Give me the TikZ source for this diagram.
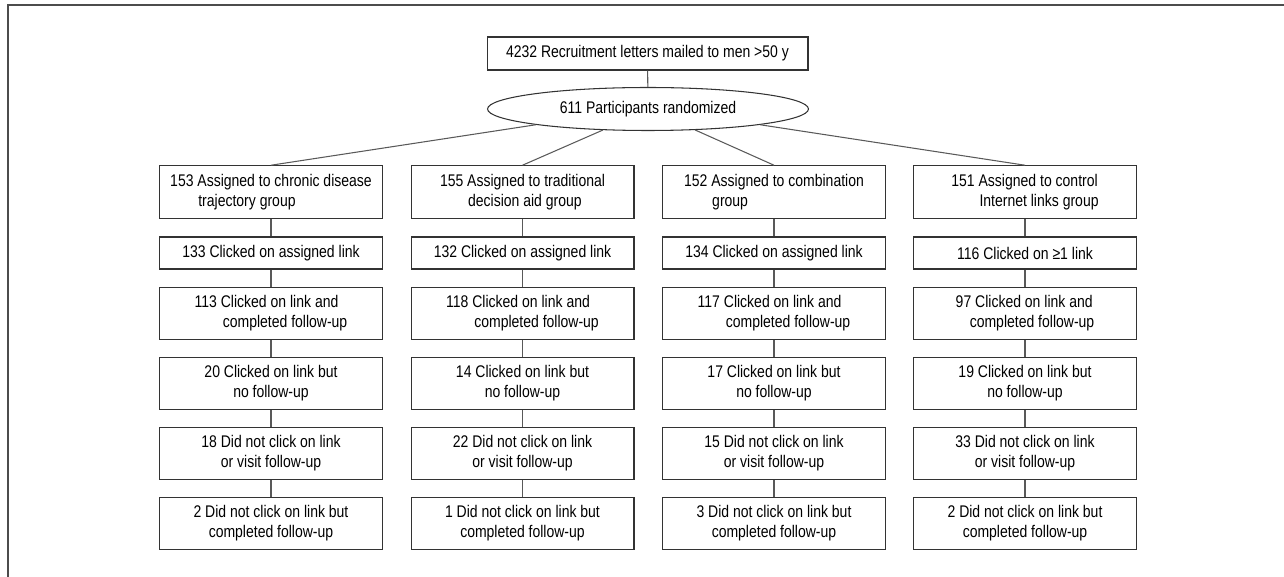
\documentclass[tikz,border=0pt]{standalone}
\usepackage{fontspec}
\setmainfont{Liberation Sans}[FakeStretch=0.83]
\usepackage{tikz}
\usetikzlibrary{shapes.geometric}
\newcommand{\ind}{\hspace*{16pt}}
\tikzset{
  box/.style={draw=black!80, line width=0.6pt, minimum width=4.46cm, minimum height=1.05cm, inner sep=0pt, align=center},
  lbox/.style={box, align=left},
  sbox/.style={box, minimum height=0.64cm},
  link/.style={draw=black!65, line width=0.6pt}
}

\begin{document}
\begin{tikzpicture}[x=0.02cm, y=-0.02cm, font=\fontsize{9.6}{11.3}\selectfont]
\useasboundingbox (0,0) rectangle (1284,577);
%%%%% Frame %%%%%
\draw[black!70, line width=1pt] (1284,5)--(8,5)--(8,577);
%%%%% Top %%%%%
\node[box, minimum width=6.42cm, minimum height=0.66cm] (mail) at (647.5,53.5) {4232 Recruitment letters mailed to men >50 y};
\node[ellipse, draw=black!80, line width=0.6pt, minimum width=6.42cm, minimum height=0.86cm, inner sep=0pt] (rand) at (648,109) {611 Participants randomized};
\draw[link] (mail) -- (rand);
%%%%% Groups %%%%%
\foreach \x/\t [count=\c] in {271/153 Assigned to chronic disease\\\ind trajectory group, 522.5/155 Assigned to traditional\\\ind decision aid group, 774/152 Assigned to combination\\\ind group, 1025/151 Assigned to control\\\ind Internet links group}
  \node[lbox] (g\c-1) at (\x,192) {\t};
\foreach \x/\t [count=\c] in {271/133 Clicked on assigned link, 522.5/132 Clicked on assigned link, 774/134 Clicked on assigned link, 1025/116 Clicked on ≥1 link}
  \node[sbox] (g\c-2) at (\x,253) {\t};
\foreach \x/\t [count=\c] in {271/113 Clicked on link and\\\ind completed follow-up, 522.5/118 Clicked on link and\\\ind completed follow-up, 774/117 Clicked on link and\\\ind completed follow-up, 1025/97 Clicked on link and\\\hspace*{8pt}completed follow-up}
  \node[lbox] (g\c-3) at (\x,313.5) {\t};
\foreach \x/\t [count=\c] in {271/20, 522.5/14, 774/17, 1025/19}
  \node[box] (g\c-4) at (\x,383.5) {\t{} Clicked on link but\\no follow-up};
\foreach \x/\t [count=\c] in {271/18, 522.5/22, 774/15, 1025/33}
  \node[box] (g\c-5) at (\x,453.5) {\t{} Did not click on link\\or visit follow-up};
\foreach \x/\t [count=\c] in {271/2, 522.5/1, 774/3, 1025/2}
  \node[box] (g\c-6) at (\x,523.5) {\t{} Did not click on link but\\completed follow-up};
%%%%% Connectors %%%%%
\foreach \a [count=\c] in {188,205,336,352}
  \draw[link] (rand.\a) -- (g\c-1.north);
\foreach \c in {1,...,4}{
  \foreach \r [count=\s from 2] in {1,...,5}
    \draw[link] (g\c-\r) -- (g\c-\s);
}
\end{tikzpicture}
\end{document}
